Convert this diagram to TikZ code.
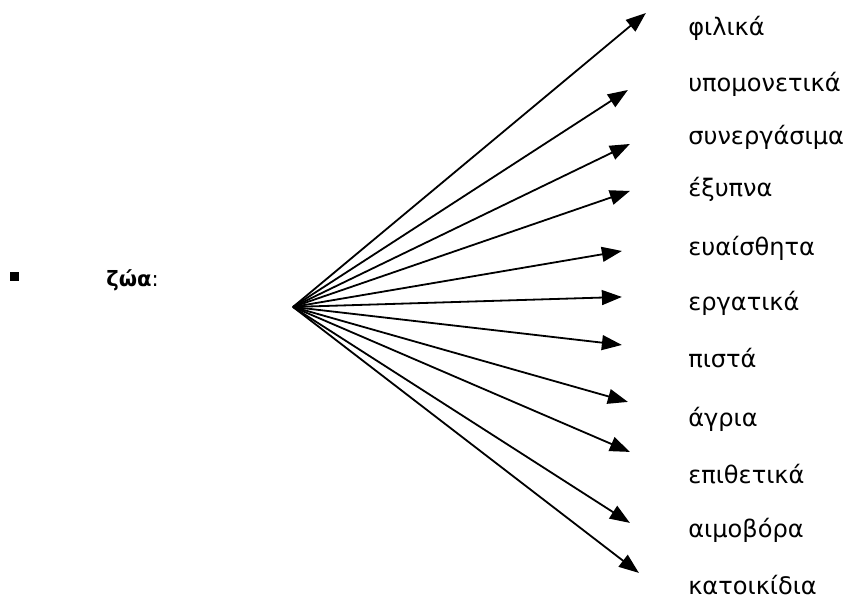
\documentclass[tikz,border=0pt]{standalone}
\usepackage{fontspec}
\setmainfont{DejaVu Sans}
\usetikzlibrary{arrows.meta}
\tikzset{
  word/.style={font=\fontsize{12}{14}\selectfont, anchor=base west, inner sep=0pt},
  headword/.style={font=\fontsize{10.5}{13}\selectfont, anchor=base west, inner sep=0pt},
  spoke/.style={-{Triangle[length=3.5mm,width=2.6mm]}, line width=0.9pt, black},
  bulletbox/.style={fill=black, minimum size=0.16cm, inner sep=0pt},
}
\begin{document}
\begin{tikzpicture}[x=1cm, y=1cm]
\useasboundingbox (0,0) rectangle (15,10.5525);
\node[bulletbox] (dot) at (0.254,5.714) {};
\node[headword] (zwa) at (1.855,5.53) {\textbf{ζώα}:};
\coordinate (hub) at (5.128,5.180);
% arrow tips
\coordinate (t1) at (11.305,10.325);
\coordinate (t2) at (10.99,8.9775);
\coordinate (t3) at (11.025,8.0325);
\coordinate (t4) at (11.025,7.21);
\coordinate (t5) at (10.885,6.16);
\coordinate (t6) at (10.885,5.355);
\coordinate (t7) at (10.885,4.515);
\coordinate (t8) at (10.99,3.5175);
\coordinate (t9) at (11.025,2.6425);
\coordinate (t10) at (11.025,1.4);
\coordinate (t11) at (11.1825,0.525);
% labels
\node[word] (w1) at (12.04,9.9225) {φιλικά};
\node[word] (w2) at (12.04,8.9425) {υπομονετικά};
\node[word] (w3) at (12.04,8.015) {συνεργάσιμα};
\node[word] (w4) at (12.04,7.105) {έξυπνα};
\node[word] (w5) at (12.04,6.0725) {ευαίσθητα};
\node[word] (w6) at (12.04,5.11) {εργατικά};
\node[word] (w7) at (12.04,4.1125) {πιστά};
\node[word] (w8) at (12.04,3.08) {άγρια};
\node[word] (w9) at (12.04,2.0825) {επιθετικά};
\node[word] (w10) at (12.04,1.1375) {αιμοβόρα};
\node[word] (w11) at (12.04,0.14) {κατοικίδια};
\foreach \n in {1,...,11} \draw[spoke] (hub) -- (t\n);
\end{tikzpicture}
\end{document}
